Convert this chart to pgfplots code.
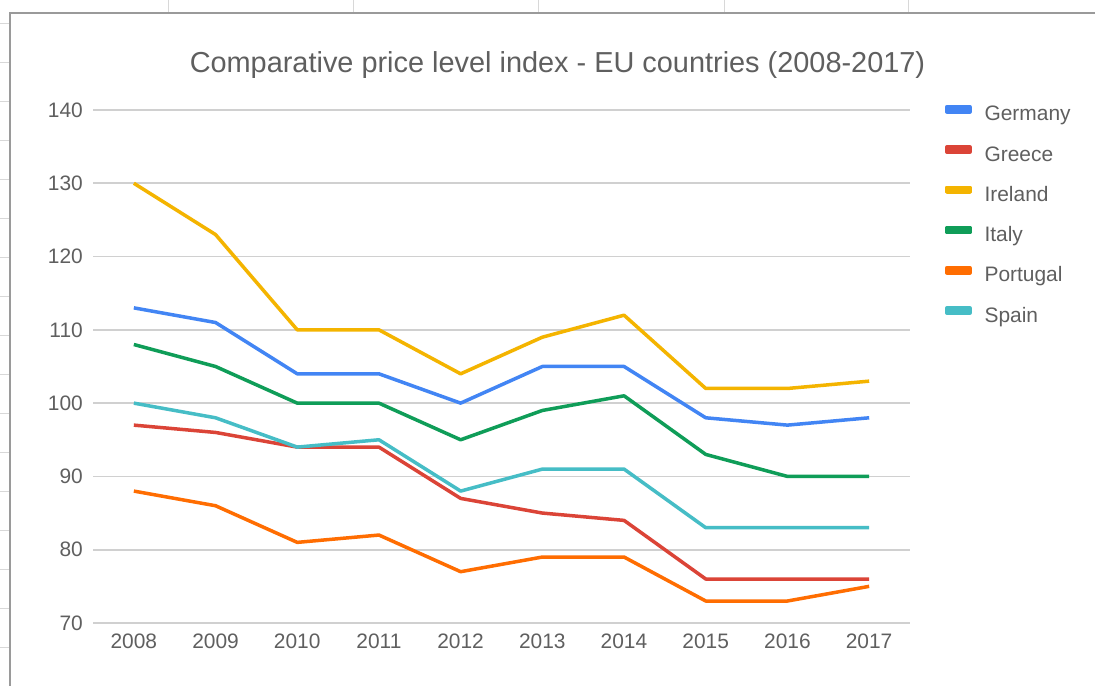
\documentclass[border=0pt]{standalone}
\usepackage{fontspec}
\setmainfont{Liberation Sans}
\usepackage{pgfplots}
\pgfplotsset{compat=1.18}
\definecolor{cGer}{HTML}{4285F4}
\definecolor{cGre}{HTML}{DB4437}
\definecolor{cIre}{HTML}{F4B400}
\definecolor{cIta}{HTML}{0F9D58}
\definecolor{cPor}{HTML}{FF6D01}
\definecolor{cSpa}{HTML}{46BDC6}
\definecolor{txtgray}{HTML}{5F5F5F}
\definecolor{gridgray}{HTML}{D0D0D0}
\definecolor{framegray}{HTML}{9A9A9A}
\definecolor{cellgray}{HTML}{D8D8D8}
\begin{document}
\begin{tikzpicture}[x=1bp,y=1bp]
\path[use as bounding box, fill=white] (0,0) rectangle (1095,686);
\foreach \xx in {168,353,538,724,908} \draw[cellgray, line width=1bp] (\xx,673) -- (\xx,686);
\foreach \yy in {24,63,102,141,180,219,258,297,336,375,414,453,492,531,570,609,648} \draw[cellgray, line width=1bp] (0,686-\yy) -- (9,686-\yy);
\draw[framegray, line width=2bp] (10,0) -- (10,673) -- (1095,673);
\node[font=\fontsize{29}{33}\selectfont, text=txtgray, anchor=base, inner sep=0pt] at (557.5,613.7) {Comparative price level index - EU countries (2008-2017)};
\begin{axis}[
  at={(93bp,63bp)}, anchor=south west,
  scale only axis, width=817bp, height=513bp,
  xmin=2007.5, xmax=2017.5, ymin=70, ymax=140,
  ytick={70,80,...,140}, xtick={2008,2009,...,2017},
  axis line style={draw=none}, major tick style={draw=none},
  ymajorgrids, grid style={gridgray, line width=1.8bp},
  /pgf/number format/assume math mode=true,
  /pgf/number format/1000 sep={},
  tick label style={font=\fontsize{21}{24}\selectfont, text=txtgray, inner sep=0pt},
  xticklabel shift=11bp, yticklabel shift=10bp,
  every axis plot/.append style={line width=3.5bp, line join=round},
  legend style={at={(1.0429,1.0097)}, anchor=north west, draw=none, fill=none,
    inner sep=0pt, outer sep=0pt,
    font=\fontsize{21}{24}\selectfont, text=txtgray,
    nodes={inner sep=0pt, outer sep=0pt, text height=15bp, text depth=4bp},
    row sep=20.3bp, column sep=13bp},
  legend cell align=left,
  legend image code/.code={\fill (0bp,3.7bp) rectangle (23bp,8.7bp);},
]
\addplot[cGer] coordinates {(2008,113)(2009,111)(2010,104)(2011,104)(2012,100)(2013,105)(2014,105)(2015,98)(2016,97)(2017,98)};
\addlegendentry{Germany}
\addplot[cGre] coordinates {(2008,97)(2009,96)(2010,94)(2011,94)(2012,87)(2013,85)(2014,84)(2015,76)(2016,76)(2017,76)};
\addlegendentry{Greece}
\addplot[cIre] coordinates {(2008,130)(2009,123)(2010,110)(2011,110)(2012,104)(2013,109)(2014,112)(2015,102)(2016,102)(2017,103)};
\addlegendentry{Ireland}
\addplot[cIta] coordinates {(2008,108)(2009,105)(2010,100)(2011,100)(2012,95)(2013,99)(2014,101)(2015,93)(2016,90)(2017,90)};
\addlegendentry{Italy}
\addplot[cPor] coordinates {(2008,88)(2009,86)(2010,81)(2011,82)(2012,77)(2013,79)(2014,79)(2015,73)(2016,73)(2017,75)};
\addlegendentry{Portugal}
\addplot[cSpa] coordinates {(2008,100)(2009,98)(2010,94)(2011,95)(2012,88)(2013,91)(2014,91)(2015,83)(2016,83)(2017,83)};
\addlegendentry{Spain}
\end{axis}
\end{tikzpicture}
\end{document}
